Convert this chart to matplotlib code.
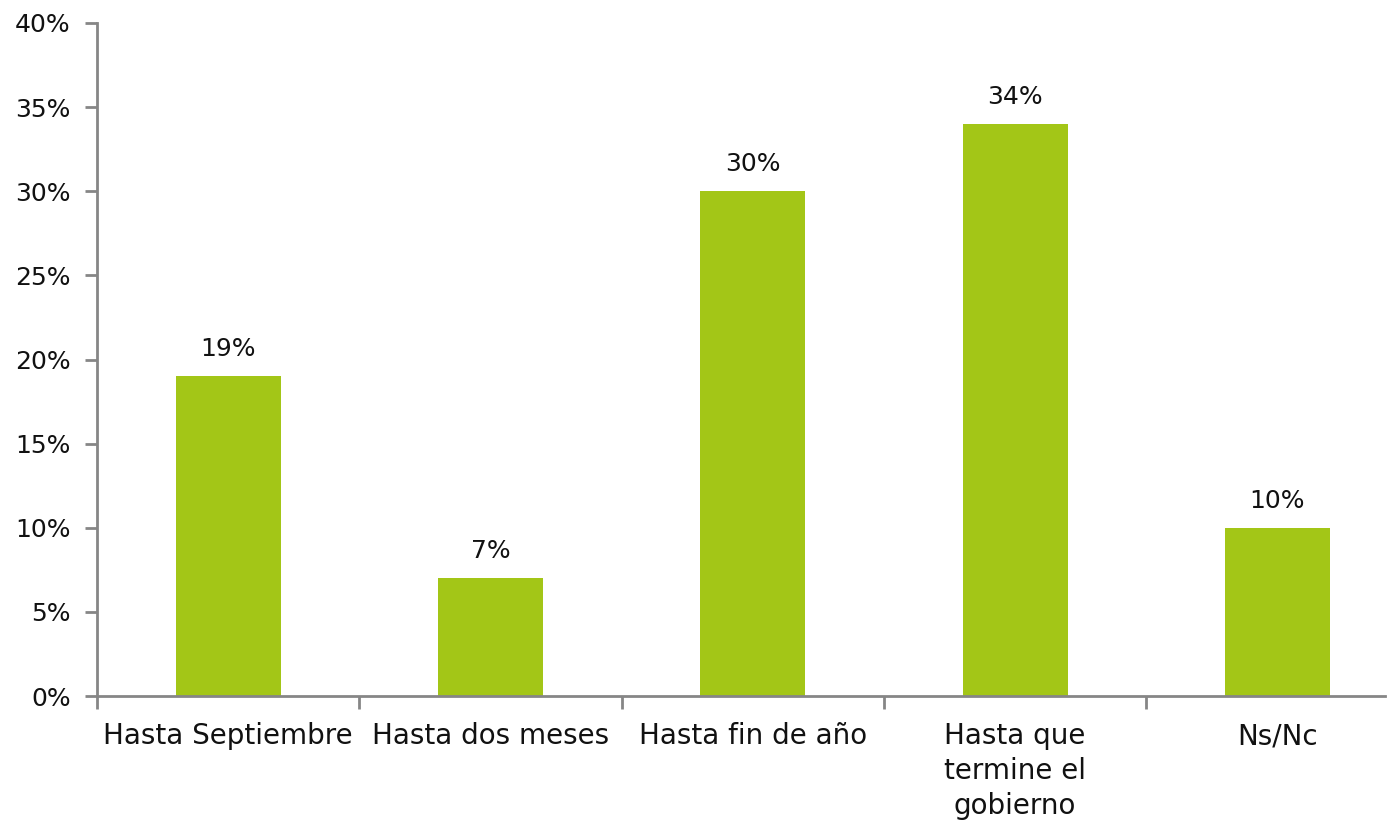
import matplotlib
matplotlib.use("Agg")
import matplotlib.pyplot as plt
from matplotlib.ticker import FixedLocator, PercentFormatter

categories = ["Hasta Septiembre", "Hasta dos meses", "Hasta fin de año",
              "Hasta que\ntermine el\ngobierno", "Ns/Nc"]
values = [19, 7, 30, 34, 10]
yticks = [0, 5, 10, 15, 20, 25, 30, 35, 40]

plt.rcParams['font.family'] = ['DejaVu Sans']
fig = plt.figure(figsize=(13.92, 8.25), dpi=100)
ax = fig.add_axes([97 / 1392, 1 - 696 / 825, 1288 / 1392, 673 / 825])

x = list(range(len(categories)))
ax.bar(x, values, width=0.4, color="#A3C617", zorder=2)
for xi, v in zip(x, values):
    ax.text(xi, v + 0.9, f"{v}%", ha="center", va="bottom", fontsize=18, color="#111111")

ax.set_xlim(-0.5, 4.41)
ax.set_ylim(0, 40)
ax.set_yticks(yticks)
ax.yaxis.set_major_formatter(PercentFormatter(decimals=0))
ax.set_xticks(x)
ax.set_xticklabels(categories, fontsize=20, va="top", linespacing=1.3)
ax.xaxis.set_minor_locator(FixedLocator([i - 0.5 for i in range(len(categories))]))
ax.tick_params(axis="x", which="major", length=0, pad=19, colors="#111111")
ax.tick_params(axis="x", which="minor", length=9, width=2, color="#868686", direction="out")
ax.tick_params(axis="y", length=9, width=2, color="#868686", labelsize=18, labelcolor="#111111", pad=10)

for s in ["top", "right"]:
    ax.spines[s].set_visible(False)
for s in ["left", "bottom"]:
    ax.spines[s].set_color("#868686")
    ax.spines[s].set_linewidth(2)

fig.savefig("out.png", dpi=100)
